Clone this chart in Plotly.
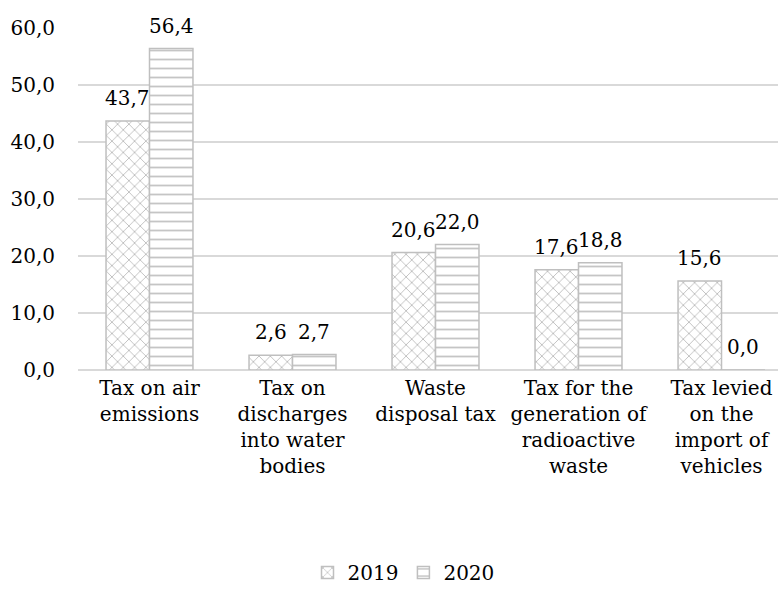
import plotly.graph_objects as go

categories = ["Tax on air<br>emissions", "Tax on<br>discharges<br>into water<br>bodies",
              "Waste<br>disposal tax", "Tax for the<br>generation of<br>radioactive<br>waste",
              "Tax levied<br>on the<br>import of<br>vehicles"]
values_2019 = [43.7, 2.6, 20.6, 17.6, 15.6]
values_2020 = [56.4, 2.7, 22.0, 18.8, 0.0]
tick_vals = [0, 10, 20, 30, 40, 50, 60]

font = dict(family="DejaVu Serif", size=20, color="#000000")

fig = go.Figure()
fig.add_trace(go.Bar(
    name="2019", x=categories, y=values_2019,
    marker=dict(color="white", line=dict(color="#BFBFBF", width=1.5),
                pattern=dict(shape="x", fgcolor="#7F7F7F", bgcolor="white", size=8, solidity=0.22)),
))
fig.add_trace(go.Bar(
    name="2020", x=categories, y=values_2020,
    marker=dict(color="white", line=dict(color="#BFBFBF", width=1.5),
                pattern=dict(shape="-", fgcolor="#8C8C8C", bgcolor="white", size=9, solidity=0.2)),
))

# value labels, offset above each bar (Excel-style padding)
half = 21.75
for vals, dx in ((values_2019, -half), (values_2020, half)):
    for c, v in zip(categories, vals):
        fig.add_annotation(x=c, y=v, text=f"{v:.1f}".replace(".", ","),
                           showarrow=False, xshift=dx, yshift=9, yanchor="bottom",
                           font=font)

fig.update_layout(
    width=784, height=592,
    margin=dict(l=78, r=6, t=0, b=0),
    paper_bgcolor="white", plot_bgcolor="white",
    barmode="group", bargap=0.392, bargroupgap=0,
    separators=", ",
    font=font,
    showlegend=True,
    legend=dict(orientation="h", x=0.465, xanchor="center", y=0.0, yanchor="bottom",
                font=font, itemwidth=30),
)
fig.update_yaxes(range=[0, 60], tickvals=tick_vals, tickformat=".1f",
                 domain=[222 / 592, 564 / 592],
                 showgrid=True, gridcolor="#D9D9D9", gridwidth=1.5,
                 zeroline=True, zerolinecolor="#D9D9D9", zerolinewidth=1.5,
                 showline=False, ticks="", ticklen=0, tickfont=font, automargin=False,
                 ticklabelstandoff=22)
fig.update_xaxes(range=[-0.5, 4.395], showline=False, ticks="", tickfont=font,
                 automargin=False, ticklabelstandoff=4)

fig.write_html("out.html")
